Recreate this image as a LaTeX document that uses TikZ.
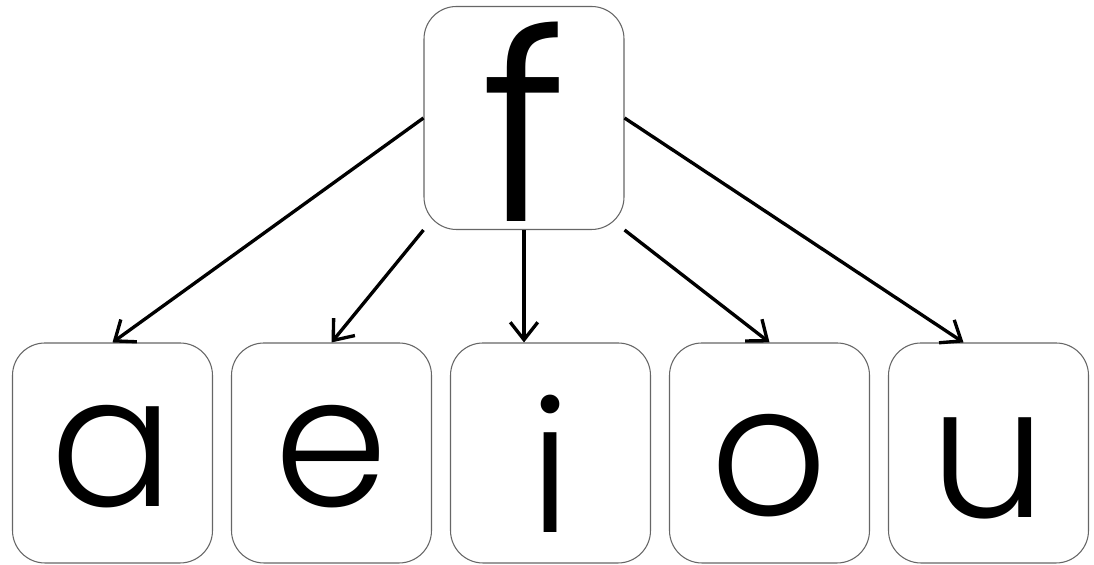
\documentclass[tikz,border=0pt]{standalone}
\usepackage{fontspec}
\newfontfamily\lettfont{Poppins}[UprightFont={* Light}]
\usepackage{tikz}
\usetikzlibrary{positioning}
\usetikzlibrary{arrows.meta}
\tikzstyle{letterbox} = [rectangle, rounded corners=0.65cm, minimum width=4cm, minimum height=4.4cm, inner sep=0pt, text height=2.45cm, text depth=0pt, text centered, draw=black!60, line width=0.6pt, fill=white, font=\lettfont\fontsize{104pt}{104pt}\selectfont]
\tikzstyle{arrow} = [line width=1.9pt, -{Straight Barb[length=0.35cm, width=0.55cm, line width=1.9pt]}]

\begin{document}
\begin{tikzpicture}[node distance=4.38cm]
\useasboundingbox (0,0) rectangle (21.88,11.3);
\node (f) [letterbox, minimum height=4.46cm, text height=4.14cm, font=\lettfont\fontsize{150pt}{150pt}\selectfont] at (10.48,8.94) {f};
\node (a) [letterbox, text height=2.16cm] at (2.25,2.24) {a};
\node (e) [letterbox, text height=2.16cm, right of=a] {e};
\node (i) [letterbox, text height=3.2cm, right of=e] {i};
\node (o) [letterbox, text height=2.5cm, right of=i] {o};
\node (u) [letterbox, text height=2.6cm, right of=o] {u};
\draw [arrow] (f.west) -- (a.north);
\draw [arrow] (f.south west) -- (e.north);
\draw [arrow] (f.south) -- (f.south |- i.north);
\draw [arrow] (f.south east) -- (o.north);
\draw [arrow] (f.east) -- ([xshift=-0.5cm]u.north);
\end{tikzpicture}
\end{document}
